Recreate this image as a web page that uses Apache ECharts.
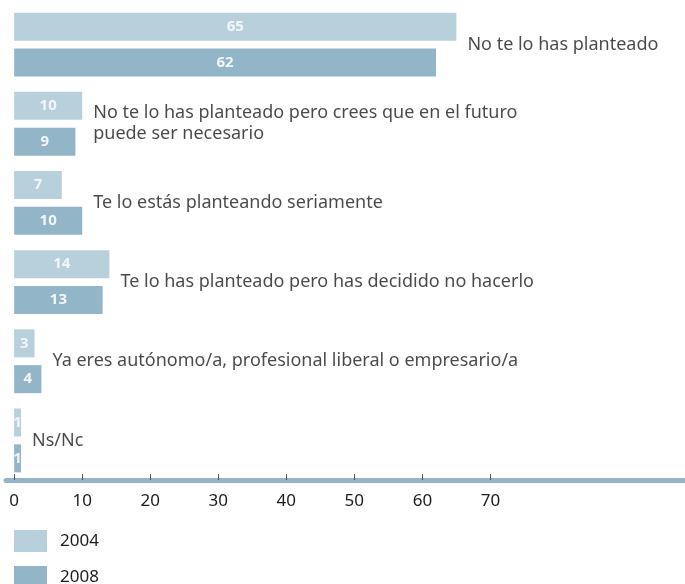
<!DOCTYPE html>
<html>
<head>
<meta charset="utf-8">
<script src="https://cdn.jsdelivr.net/npm/echarts@6/dist/echarts.min.js"></script>
<style>
  html, body { margin: 0; padding: 0; background: #ffffff; }
  #main { width: 685px; height: 584px; }
</style>
</head>
<body>
<div id="main"></div>
<script>
// respuestas (categorias)
var categorias = [
  'No te lo has planteado',
  'No te lo has planteado pero crees que en el futuro\npuede ser necesario',
  'Te lo estás planteando seriamente',
  'Te lo has planteado pero has decidido no hacerlo',
  'Ya eres autónomo/a, profesional liberal o empresario/a',
  'Ns/Nc'
];
var valores2004 = [65, 10, 7, 14, 3, 1];
var valores2008 = [62, 9, 10, 13, 4, 1];
var ticks = [0, 10, 20, 30, 40, 50, 60, 70];

// el texto de cada categoria va a la derecha de la barra mas larga
var posTexto = categorias.map(function (c, i) {
  return Math.max(valores2004[i], valores2008[i]);
});

var fuente = '"Noto Sans", "Open Sans", sans-serif';
var chart = echarts.init(document.getElementById('main'));

var option = {
  animation: false,
  textStyle: { fontFamily: fuente },
  grid: { left: 6, right: 0, top: 5, bottom: 104 },
  legend: {
    data: ['2004', '2008'],
    orient: 'vertical',
    left: 14,
    top: 530,
    height: 120,
    padding: 0,
    itemWidth: 33,
    itemHeight: 22,
    itemGap: 14,
    icon: 'rect',
    textStyle: { fontSize: 17, color: '#1c1c1c', fontFamily: fuente, padding: [0, 0, 0, 8] }
  },
  xAxis: {
    type: 'value',
    min: -1.2,
    max: 98.6,
    splitLine: { show: false },
    axisLine: { show: true, onZero: false, lineStyle: { color: '#93b5c6', width: 5 } },
    axisTick: {
      show: true, inside: true, length: 6, customValues: ticks,
      lineStyle: { color: '#555', width: 1 }
    },
    axisLabel: {
      customValues: ticks, margin: 13, fontSize: 17, color: '#1c1c1c', fontFamily: fuente
    }
  },
  yAxis: {
    type: 'category',
    data: categorias,
    inverse: true,
    axisLine: { show: false },
    axisTick: { show: false },
    axisLabel: { show: false }
  },
  series: [
    {
      name: '2004',
      type: 'bar',
      data: valores2004,
      barWidth: 28,
      barGap: '28%',
      itemStyle: { color: '#b8d0dc' },
      label: {
        show: true, position: 'inside', color: '#f2f6f8',
        fontWeight: 'bold', fontSize: 15, fontFamily: fuente
      }
    },
    {
      name: '2008',
      type: 'bar',
      data: valores2008,
      barWidth: 28,
      itemStyle: { color: '#93b5c8' },
      label: {
        show: true, position: 'inside', color: '#f2f6f8',
        fontWeight: 'bold', fontSize: 15, fontFamily: fuente
      }
    },
    {
      name: 'textos',
      type: 'scatter',
      data: posTexto,
      symbolSize: 0,
      silent: true,
      label: {
        show: true,
        position: 'right',
        distance: 11,
        align: 'left',
        fontSize: 18,
        lineHeight: 21,
        color: '#1c1c1c',
        fontFamily: fuente,
        formatter: function (p) { return categorias[p.dataIndex]; }
      }
    }
  ]
};

chart.setOption(option);
</script>
</body>
</html>
